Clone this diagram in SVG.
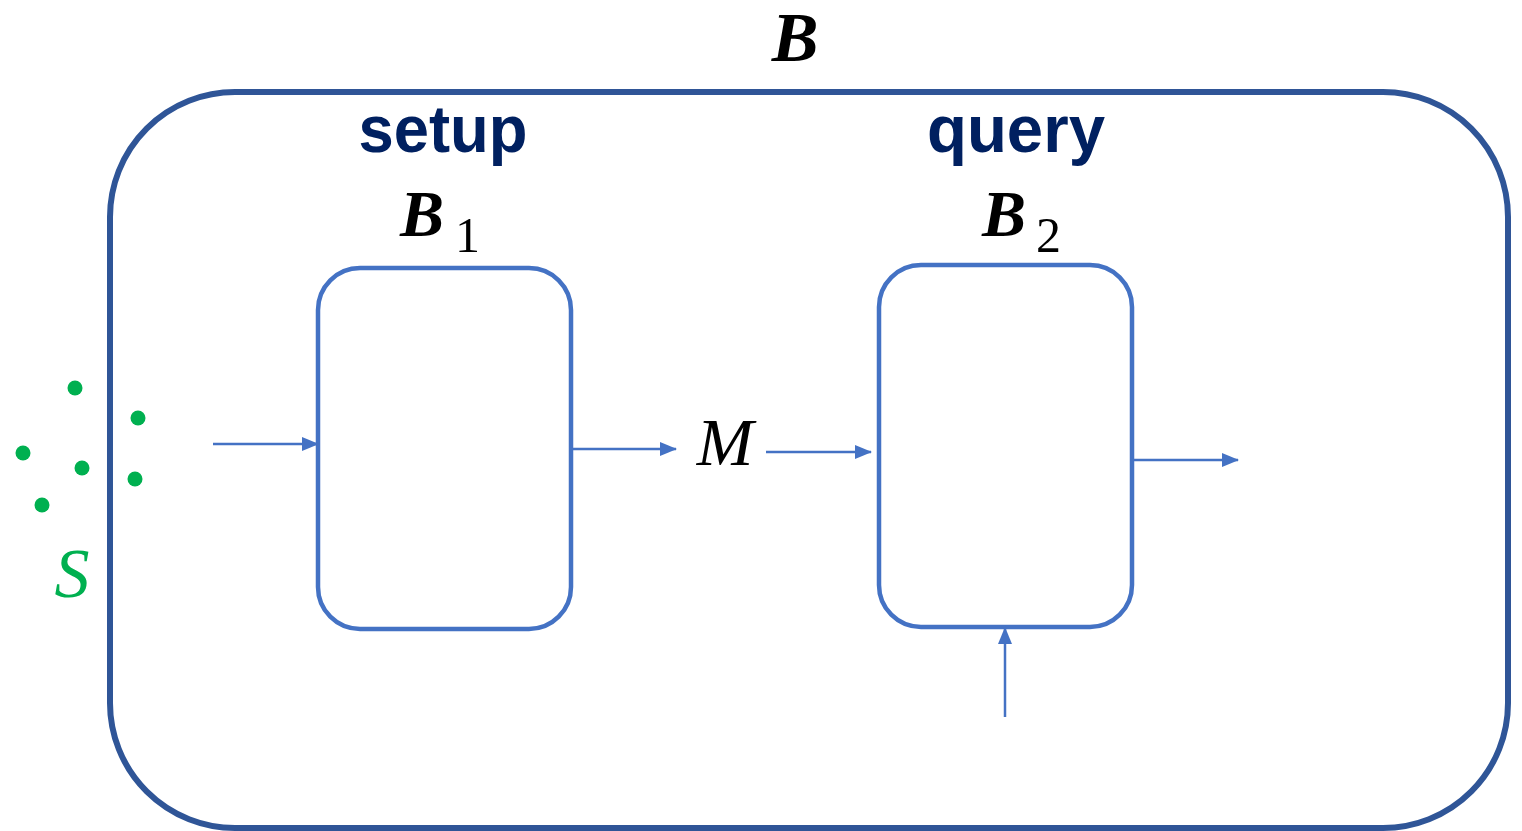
<svg xmlns="http://www.w3.org/2000/svg" width="1522" height="831" viewBox="0 0 1522 831">
<style>
.box{fill:none;stroke:#4472C4;stroke-width:4.5}
.conn{stroke:#4472C4;stroke-width:2.5;fill:none}
.lbl{font-family:"Liberation Sans",Arial,sans-serif;font-weight:bold;fill:#002060;font-size:66px}
.math{font-family:"Liberation Serif","Times New Roman",serif;fill:#000}
.dot{fill:#00B050}
</style>
<defs>
<marker id="ah" markerWidth="17" markerHeight="14" refX="16" refY="7" orient="auto" markerUnits="userSpaceOnUse">
<path d="M0,0 L17,7 L0,14 Z" fill="#4472C4"/>
</marker>
</defs>
<g id="outer">
<rect x="110" y="92" width="1398" height="736" rx="125" ry="125" fill="none" stroke="#2F5597" stroke-width="6"/>
<text x="795" y="61" class="math" font-size="70" font-weight="bold" font-style="italic" text-anchor="middle">B</text>
</g>
<g id="setup">
<text x="443" y="152" class="lbl" text-anchor="middle" textLength="169" lengthAdjust="spacingAndGlyphs">setup</text>
<text x="400" y="236" class="math" font-size="66" font-weight="bold" font-style="italic">B</text>
<text x="455" y="252" class="math" font-size="50">1</text>
<rect class="box" x="318" y="268" width="253" height="361" rx="42" ry="42"/>
</g>
<g id="query">
<text x="1016" y="152" class="lbl" text-anchor="middle" textLength="178" lengthAdjust="spacingAndGlyphs">query</text>
<text x="982" y="236" class="math" font-size="66" font-weight="bold" font-style="italic">B</text>
<text x="1036" y="252" class="math" font-size="50">2</text>
<rect class="box" x="879" y="265" width="253" height="362" rx="42" ry="42"/>
</g>
<g id="S">
<circle class="dot" cx="75" cy="388" r="7.5"/>
<circle class="dot" cx="138" cy="418" r="7.5"/>
<circle class="dot" cx="23" cy="453" r="7.5"/>
<circle class="dot" cx="82" cy="468" r="7.5"/>
<circle class="dot" cx="135" cy="479" r="7.5"/>
<circle class="dot" cx="42" cy="505" r="7.5"/>
<text x="72" y="597" font-family="Liberation Serif,serif" font-style="italic" font-size="70" fill="#00B050" text-anchor="middle">S</text>
</g>
<g id="M">
<text x="725" y="465" class="math" font-size="68" font-style="italic" text-anchor="middle">M</text>
</g>
<g id="connectors">
<line class="conn" x1="213" y1="444" x2="318" y2="444" marker-end="url(#ah)"/>
<line class="conn" x1="573" y1="449" x2="676" y2="449" marker-end="url(#ah)"/>
<line class="conn" x1="766" y1="452" x2="871" y2="452" marker-end="url(#ah)"/>
<line class="conn" x1="1134" y1="460" x2="1238" y2="460" marker-end="url(#ah)"/>
<line class="conn" x1="1005" y1="717" x2="1005" y2="628" marker-end="url(#ah)"/>
</g>
</svg>
